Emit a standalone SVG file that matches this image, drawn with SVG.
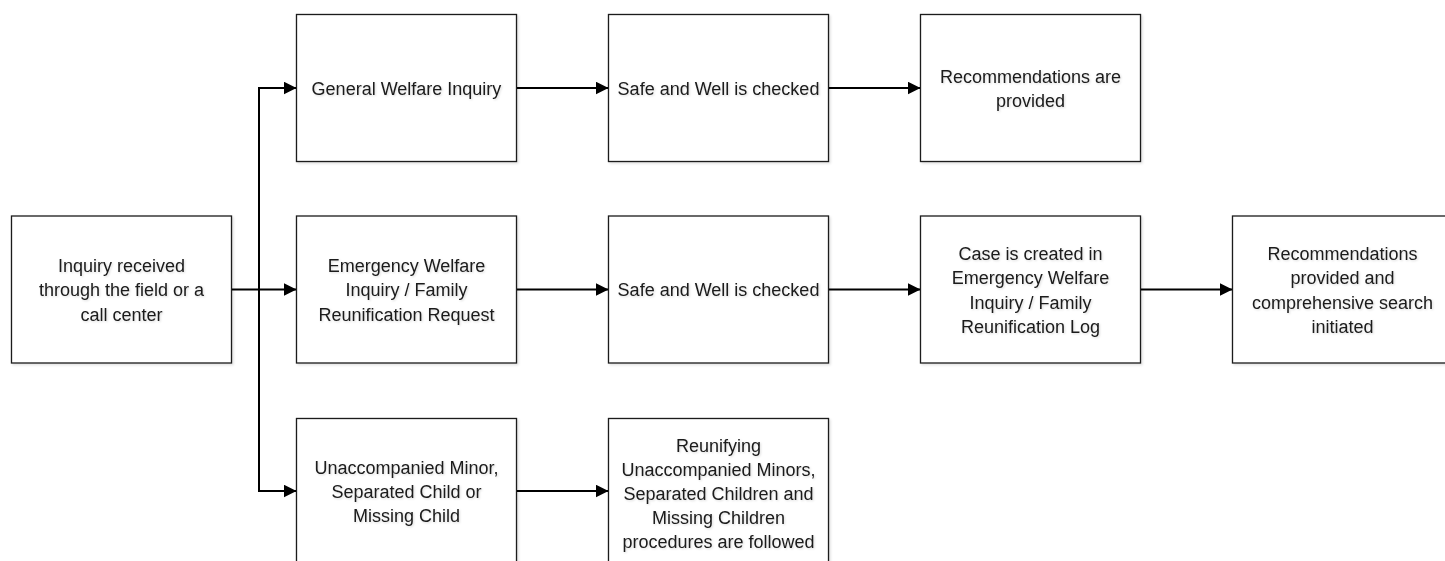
<svg xmlns="http://www.w3.org/2000/svg" width="1445" height="561" viewBox="0 0 1445 561">
  <style>
    .box { fill: #ffffff; stroke: #1a1a1a; stroke-width: 1.3; filter: url(#shadow); }
    .lbl { font-family: "Liberation Sans", Arial, sans-serif; font-size: 18px; fill: #1a1a1a; text-anchor: middle; filter: url(#tshadow); }
    .conn { fill: none; stroke: #000000; stroke-width: 2; marker-end: url(#arrow); }
    .plain { fill: none; stroke: #000000; stroke-width: 2; }
  </style>
  <defs>
    <marker id="arrow" markerUnits="userSpaceOnUse" markerWidth="14" markerHeight="14" refX="13" refY="6.5" orient="auto">
      <path d="M0,0 L13,6.5 L0,13 z" fill="#000000"/>
    </marker>
    <filter id="shadow" x="-5%" y="-5%" width="115%" height="115%">
      <feDropShadow dx="1.5" dy="1.5" stdDeviation="1.2" flood-color="#000000" flood-opacity="0.12"/>
    </filter>
    <filter id="tshadow" x="-5%" y="-20%" width="110%" height="140%">
      <feDropShadow dx="1" dy="1" stdDeviation="1" flood-color="#000000" flood-opacity="0.15"/>
    </filter>
  </defs>

  <g id="connectors">
    <path class="conn" d="M231.5,289.5 H296.5"/>
    <path class="conn" d="M259,289.5 V88 H296.5"/>
    <path class="conn" d="M259,289.5 V491 H296.5"/>
    <path class="conn" d="M516.5,88 H608.5"/>
    <path class="conn" d="M828.5,88 H920.5"/>
    <path class="conn" d="M516.5,289.5 H608.5"/>
    <path class="conn" d="M828.5,289.5 H920.5"/>
    <path class="conn" d="M1140.5,289.5 H1232.5"/>
    <path class="conn" d="M516.5,491 H608.5"/>
  </g>

  <g id="inquiry-received">
    <rect class="box" x="11.5" y="216" width="220" height="147"/>
    <text class="lbl" x="121.5" y="272">Inquiry received</text>
    <text class="lbl" x="121.5" y="296.3">through the field or a</text>
    <text class="lbl" x="121.5" y="320.6">call center</text>
  </g>

  <g id="general-welfare-inquiry">
    <rect class="box" x="296.5" y="14.5" width="220" height="147"/>
    <text class="lbl" x="406.5" y="94.5">General Welfare Inquiry</text>
  </g>

  <g id="safe-well-1">
    <rect class="box" x="608.5" y="14.5" width="220" height="147"/>
    <text class="lbl" x="718.5" y="94.5">Safe and Well is checked</text>
  </g>

  <g id="recommendations-provided">
    <rect class="box" x="920.5" y="14.5" width="220" height="147"/>
    <text class="lbl" x="1030.5" y="82.5">Recommendations are</text>
    <text class="lbl" x="1030.5" y="106.8">provided</text>
  </g>

  <g id="emergency-welfare-inquiry">
    <rect class="box" x="296.5" y="216" width="220" height="147"/>
    <text class="lbl" x="406.5" y="272">Emergency Welfare</text>
    <text class="lbl" x="406.5" y="296.3">Inquiry / Family</text>
    <text class="lbl" x="406.5" y="320.6">Reunification Request</text>
  </g>

  <g id="safe-well-2">
    <rect class="box" x="608.5" y="216" width="220" height="147"/>
    <text class="lbl" x="718.5" y="296">Safe and Well is checked</text>
  </g>

  <g id="case-created">
    <rect class="box" x="920.5" y="216" width="220" height="147"/>
    <text class="lbl" x="1030.5" y="260">Case is created in</text>
    <text class="lbl" x="1030.5" y="284.3">Emergency Welfare</text>
    <text class="lbl" x="1030.5" y="308.6">Inquiry / Family</text>
    <text class="lbl" x="1030.5" y="332.9">Reunification Log</text>
  </g>

  <g id="comprehensive-search">
    <rect class="box" x="1232.5" y="216" width="220" height="147"/>
    <text class="lbl" x="1342.5" y="260">Recommendations</text>
    <text class="lbl" x="1342.5" y="284.3">provided and</text>
    <text class="lbl" x="1342.5" y="308.6">comprehensive search</text>
    <text class="lbl" x="1342.5" y="332.9">initiated</text>
  </g>

  <g id="unaccompanied-minor">
    <rect class="box" x="296.5" y="418.5" width="220" height="147"/>
    <text class="lbl" x="406.5" y="473.5">Unaccompanied Minor,</text>
    <text class="lbl" x="406.5" y="497.8">Separated Child or</text>
    <text class="lbl" x="406.5" y="522.1">Missing Child</text>
  </g>

  <g id="reunifying-procedures">
    <rect class="box" x="608.5" y="418.5" width="220" height="147"/>
    <text class="lbl" x="718.5" y="452.4">Reunifying</text>
    <text class="lbl" x="718.5" y="476.2">Unaccompanied Minors,</text>
    <text class="lbl" x="718.5" y="500">Separated Children and</text>
    <text class="lbl" x="718.5" y="523.8">Missing Children</text>
    <text class="lbl" x="718.5" y="547.6">procedures are followed</text>
  </g>
</svg>
